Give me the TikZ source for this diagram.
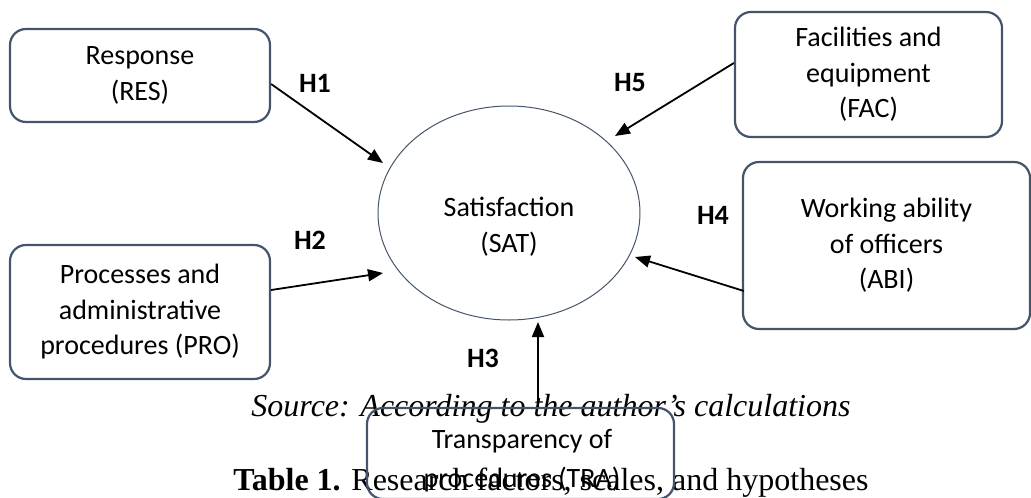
\documentclass[tikz,border=0pt]{standalone}
\usepackage{fontspec}
\setmainfont{Carlito}
\newfontfamily\tnr{Liberation Serif}
\usetikzlibrary{shapes.geometric,arrows.meta,calc}
\definecolor{boxline}{RGB}{68,84,106}
\begin{document}
\begin{tikzpicture}[x=1pt,y=-1pt,
  factorbox/.style={draw=boxline, line width=2.2pt, rounded corners=16pt, inner sep=0pt,
    align=center, font=\fontsize{28}{35.5}\selectfont},
  hlabel/.style={font=\fontsize{28}{34}\selectfont\bfseries, inner sep=0pt},
  arr/.style={line width=1.8pt, -{Triangle[length=15pt,width=12pt]}},
  captxt/.style={inner sep=0pt, anchor=base, font=\fontsize{32}{38}\selectfont\tnr}]
\useasboundingbox (0,0) rectangle (1031,498);
% captions (drawn first, the box lies over them)
\node[captxt] (src) at (551,416) {\itshape Source: According to the author’s calculations};
\node[captxt] (tab) at (551,490) {\textbf{Table 1.} Research factors, scales, and hypotheses};
% ellipse
\node[draw=boxline, line width=1pt, ellipse, minimum width=262pt, minimum height=214pt, inner sep=0pt] (sat) at (509,213) {};
\node[inner sep=0pt, align=center, font=\fontsize{28}{36}\selectfont] (sattxt) at (509,227) {Satisfaction\\(SAT)};
% boxes
\node[factorbox, minimum width=260pt, minimum height=93pt] (res) at (140,75.5) {Response\\(RES)};
\node[factorbox, minimum width=267pt, minimum height=125pt] (fac) at (868.5,74.5) {Facilities and\\equipment\\(FAC)};
\node[factorbox, minimum width=287pt, minimum height=167pt] (abi) at (886.5,245.5) {Working ability\\of officers\\(ABI)};
\node[factorbox, minimum width=260pt, minimum height=134pt] (pro) at (140,312) {Processes and\\administrative\\procedures (PRO)};
\node[factorbox, minimum width=307pt, minimum height=91pt] (tra) at (520.5,453.5) {};
\node[inner sep=0pt, align=center, font=\fontsize{28}{39}\selectfont] (tratxt) at (522,461) {Transparency of\\procedures (TRA)};
% arrow tips
\coordinate (t1) at (383,163);
\coordinate (t2) at (383,273);
\coordinate (t3) at (538,322);
\coordinate (t4) at (635,257);
\coordinate (t5) at (615,136);
% connectors
\draw[arr] ([yshift=-8.5pt]res.east) -- (t1);
\draw[arr] ([yshift=22pt]pro.east) -- (t2);
\draw[arr] (t3 |- tra.north) -- (t3);
\draw[arr] ([xshift=2pt,yshift=-45.5pt]abi.west) -- (t4);
\draw[arr] ([yshift=11.5pt]fac.west) -- (t5);
% hypothesis labels
\node[hlabel] (h1) at (315,83) {H1};
\node[hlabel] (h2) at (310,240) {H2};
\node[hlabel] (h3) at (483,358) {H3};
\node[hlabel] (h4) at (713,215) {H4};
\node[hlabel] (h5) at (630,83) {H5};
\end{tikzpicture}
\end{document}
